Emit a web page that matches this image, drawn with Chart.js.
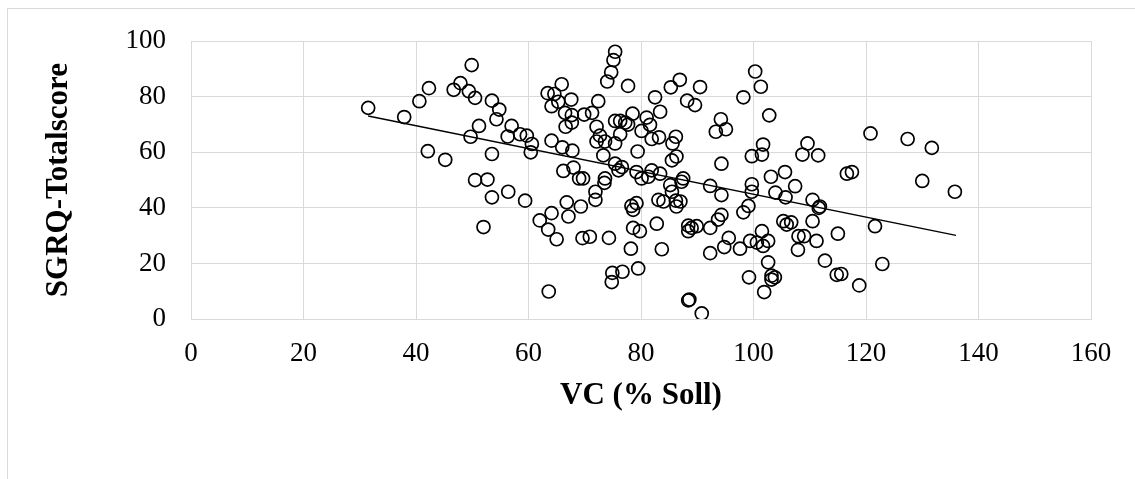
<!DOCTYPE html>
<html>
<head>
<meta charset="utf-8">
<script src="https://cdn.jsdelivr.net/npm/chart.js@4.4.1/dist/chart.umd.min.js"></script>
<style>
  html, body { margin: 0; padding: 0; background: #ffffff; }
  #wrap { position: relative; width: 1135px; height: 479px; overflow: hidden; }
  #frame { position: absolute; left: 7px; top: 8px; width: 1200px; height: 600px;
           border-left: 1px solid #d9d9d9; border-top: 1px solid #d9d9d9; }
  #c { position: absolute; left: 0; top: 0; }
</style>
</head>
<body>
<div id="wrap">
  <div id="frame"></div>
  <canvas id="c" width="1135" height="479"></canvas>
</div>
<script>
// VC (% Soll) values
const vcValues = [
  49.9, 42.3, 47.9, 46.7, 49.4, 50.5, 31.5, 40.6, 37.9, 53.5,
  54.8, 54.3, 57.0, 56.3, 51.2, 49.7, 42.1, 45.2, 53.5, 50.5,
  52.7, 53.5, 56.4, 52.0, 75.4, 75.1, 74.7, 74.0, 77.7, 65.9,
  63.4, 64.6, 64.1, 65.3, 67.6, 66.5, 67.7, 67.7, 66.6, 69.9,
  71.3, 72.4, 72.1, 72.7, 72.1, 73.6, 75.4, 76.3, 75.4, 76.3,
  77.2, 77.7, 78.5, 81.0, 81.6, 80.1, 81.9, 83.2, 82.5, 83.4,
  85.3, 79.4, 73.3, 58.5, 59.7, 60.6, 60.4, 64.1, 66.0, 67.8,
  75.4, 76.6, 76.0, 66.2, 68.0, 69.0, 69.7, 73.6, 73.5, 79.2,
  80.1, 81.3, 81.9, 83.4, 59.4, 64.1, 62.0, 63.5, 65.0, 66.8,
  67.1, 69.3, 69.6, 70.9, 74.3, 71.9, 71.9, 78.3, 79.2, 78.6,
  82.8, 78.6, 79.8, 78.2, 83.7, 79.5, 74.9, 76.7, 74.8, 63.6,
  83.1, 84.0, 100.3, 101.3, 98.2, 102.8, 86.9, 90.5, 88.2, 89.6,
  94.2, 93.3, 95.1, 86.2, 85.6, 86.3, 85.5, 94.3, 101.7, 101.5,
  99.7, 109.6, 108.7, 111.5, 103.1, 105.6, 107.4, 99.7, 92.3, 87.5,
  87.2, 85.2, 94.3, 99.7, 103.9, 105.7, 110.5, 111.8, 111.6, 110.5,
  99.1, 98.2, 94.3, 93.7, 92.3, 88.4, 89.0, 89.9, 88.4, 92.3,
  94.8, 95.6, 97.6, 99.4, 100.6, 101.5, 101.7, 102.6, 105.3, 105.9,
  106.7, 108.0, 109.0, 107.9, 102.6, 99.2, 103.2, 103.8, 103.2, 101.9,
  88.4, 88.6, 90.8, 85.5, 86.2, 87.0, 86.3, 120.8, 127.4, 131.7,
  116.6, 117.5, 130.0, 135.8, 121.6, 122.9, 118.8, 115.0, 112.7, 114.8,
  115.6, 111.2
];
// SGRQ-Totalscore values
const sgrqValues = [
  91.4, 83.1, 84.9, 82.5, 82.0, 79.6, 76.0, 78.4, 72.7, 78.6,
  75.4, 71.9, 69.5, 65.7, 69.5, 65.6, 60.4, 57.3, 59.4, 50.0,
  50.2, 43.8, 45.8, 33.1, 96.2, 93.2, 88.8, 85.5, 83.9, 84.5,
  81.3, 81.0, 76.6, 78.2, 79.0, 74.2, 73.4, 70.7, 69.2, 73.6,
  74.2, 78.4, 69.2, 66.0, 63.9, 63.9, 63.2, 66.5, 71.3, 71.3,
  70.7, 70.0, 73.9, 72.5, 69.9, 67.7, 64.8, 65.4, 79.8, 74.6,
  83.4, 60.3, 58.9, 66.5, 66.0, 63.0, 60.0, 64.2, 61.8, 60.6,
  55.9, 54.7, 53.5, 53.3, 54.5, 50.6, 50.6, 50.6, 49.0, 52.9,
  50.6, 51.2, 53.5, 52.3, 42.6, 38.1, 35.5, 32.2, 28.7, 42.0,
  36.9, 40.5, 29.1, 29.6, 29.2, 45.8, 42.9, 40.7, 41.7, 39.3,
  34.3, 32.8, 31.6, 25.3, 25.1, 18.2, 16.6, 17.0, 13.3, 9.9,
  42.9, 42.3, 89.1, 83.6, 79.8, 73.3, 86.1, 83.5, 78.6, 77.0,
  71.9, 67.4, 68.3, 65.6, 63.2, 58.5, 57.1, 55.9, 62.8, 59.2,
  58.6, 63.2, 59.2, 58.9, 51.2, 52.9, 47.8, 48.5, 47.9, 50.6,
  49.4, 48.2, 44.6, 45.8, 45.5, 43.8, 42.9, 40.5, 40.0, 35.2,
  40.7, 38.4, 37.5, 35.8, 32.8, 33.6, 32.8, 33.4, 31.6, 23.7,
  25.9, 29.2, 25.3, 28.1, 27.5, 31.6, 26.3, 28.1, 35.2, 34.0,
  34.8, 29.8, 29.8, 24.9, 20.4, 15.0, 15.6, 15.0, 14.2, 9.7,
  6.7, 7.0, 2.0, 45.8, 42.6, 42.3, 40.5, 66.8, 64.8, 61.6,
  52.3, 52.9, 49.7, 45.8, 33.4, 19.8, 12.1, 30.7, 21.0, 15.9,
  16.2, 28.1
];
// Linear trendline end points
const trendX = [31.5, 136.0];
const trendY = [73.1, 30.1];
// Axis ticks
const xTickValues = [0, 20, 40, 60, 80, 100, 120, 140, 160];
const yTickValues = [0, 20, 40, 60, 80, 100];
const xTitle = 'VC (% Soll)';
const yTitle = 'SGRQ-Totalscore';

const points = vcValues.map((x, i) => ({ x: x, y: sgrqValues[i] }));
const trend = trendX.map((x, i) => ({ x: x, y: trendY[i] }));

const FONT = "'Liberation Serif', 'Times New Roman', serif";
const GRID = '#d9d9d9';

new Chart(document.getElementById('c'), {
  type: 'scatter',
  data: {
    datasets: [
      {
        data: points,
        pointRadius: 6.5,
        pointHoverRadius: 6.5,
        pointBorderWidth: 1.7,
        pointBorderColor: '#000000',
        pointBackgroundColor: 'rgba(0,0,0,0)',
        showLine: false,
        order: 2
      },
      {
        data: trend,
        showLine: true,
        borderColor: '#000000',
        borderWidth: 1.5,
        pointRadius: 0,
        fill: false,
        order: 1
      }
    ]
  },
  options: {
    responsive: false,
    animation: false,
    devicePixelRatio: 1,
    layout: { padding: { left: 0, top: 38, right: 44, bottom: 0 } },
    plugins: { legend: { display: false }, tooltip: { enabled: false } },
    scales: {
      x: {
        type: 'linear',
        min: 0, max: 160,
        afterBuildTicks: s => { s.ticks = xTickValues.map(v => ({ value: v })); },
        afterFit: s => { s.height = 160; },
        grid: { color: GRID, lineWidth: 1, drawTicks: false },
        border: { color: GRID, width: 1 },
        ticks: { color: '#000', font: { family: FONT, size: 27 }, padding: 19, maxRotation: 0 },
        title: { display: true, text: xTitle, color: '#000',
                 font: { family: FONT, size: 31, weight: 'bold' },
                 padding: { top: 0, bottom: 64 } }
      },
      y: {
        type: 'linear',
        min: 0, max: 100,
        afterBuildTicks: s => { s.ticks = yTickValues.map(v => ({ value: v })); },
        afterFit: s => { s.width = 191; },
        grid: { color: GRID, lineWidth: 1, drawTicks: false },
        border: { color: GRID, width: 1 },
        ticks: { color: '#000', font: { family: FONT, size: 27 }, padding: 25 },
        title: { display: true, text: yTitle, color: '#000',
                 font: { family: FONT, size: 31, weight: 'bold' },
                 padding: { top: 40, bottom: 0 } }
      }
    }
  }
});
</script>
</body>
</html>
